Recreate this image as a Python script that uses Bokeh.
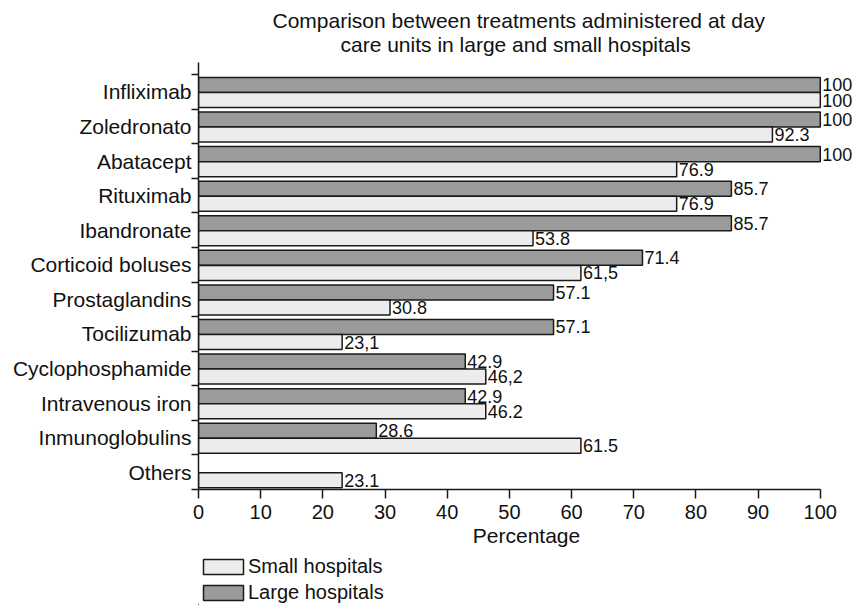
from bokeh.plotting import figure
from bokeh.layouts import column
from bokeh.models import (Range1d, FixedTicker, ColumnDataSource, Legend, LegendItem, Title, LabelSet)
from bokeh.core.properties import value
from bokeh.embed import file_html
from bokeh.resources import INLINE

categories = ["Infliximab", "Zoledronato", "Abatacept", "Rituximab", "Ibandronate",
              "Corticoid boluses", "Prostaglandins", "Tocilizumab", "Cyclophosphamide",
              "Intravenous iron", "Inmunoglobulins", "Others"]
large_vals = [100, 100, 100, 85.7, 85.7, 71.4, 57.1, 57.1, 42.9, 42.9, 28.6, None]
small_vals = [100, 92.3, 76.9, 76.9, 53.8, 61.5, 30.8, 23.1, 46.2, 46.2, 61.5, 23.1]
large_text = ["100", "100", "100", "85.7", "85.7", "71.4", "57.1", "57.1", "42.9", "42.9", "28.6", ""]
small_text = ["100", "92.3", "76.9", "76.9", "53.8", "61,5", "30.8", "23,1", "46,2", "46.2", "61.5", "23.1"]
x_ticks = [0, 10, 20, 30, 40, 50, 60, 70, 80, 90, 100]
series_names = ["Small hospitals", "Large hospitals"]
title_lines = ["Comparison between treatments administered at day",
               "care units in large and small hospitals"]

n = len(categories)
centers = [n - 1 - i for i in range(n)]
OFF_L = 0.20
OFF_S = 0.235
BAR_H = 0.434

large_idx = [i for i in range(n) if large_vals[i] is not None]
src_large = ColumnDataSource(dict(
    y=[centers[i] + OFF_L for i in large_idx],
    right=[large_vals[i] for i in large_idx],
    t=[large_text[i] for i in large_idx]))
src_small = ColumnDataSource(dict(
    y=[centers[i] - OFF_S for i in range(n)],
    right=small_vals,
    t=small_text))

FONT = "Liberation Sans"
INK = "#111111"
LINE = "#1a1a1a"
FILL_L = "#9b9b9b"
FILL_S = "#ececec"

# frame extends a little past 100 so the value labels are not clipped;
# the x axis itself is bounded to 0..100
p = figure(frame_width=656, frame_height=427, output_backend="svg", toolbar_location=None,
           x_range=Range1d(0, 105.5), y_range=Range1d(-0.5, n - 0.15),
           min_border_left=198, min_border_right=0, min_border_top=62, min_border_bottom=66)
p.outline_line_color = None
p.xgrid.visible = False
p.ygrid.visible = False

r_large = p.hbar(y="y", left=0, right="right", height=BAR_H, source=src_large,
                 fill_color=FILL_L, line_color=LINE, line_width=1.5)
r_small = p.hbar(y="y", left=0, right="right", height=BAR_H, source=src_small,
                 fill_color=FILL_S, line_color=LINE, line_width=1.5)

for src in (src_large, src_small):
    p.add_layout(LabelSet(x="right", y="y", text="t", source=src, x_offset=2,
                          text_baseline="middle", text_align="left",
                          text_font=value(FONT), text_font_size=value("18px"),
                          text_color=INK))

# x axis
xa = p.xaxis[0]
xa.bounds = (0, 100)
xa.ticker = FixedTicker(ticks=x_ticks)
xa.major_tick_out = 9
xa.major_tick_in = 0
xa.minor_tick_out = 0
xa.minor_tick_in = 0
xa.axis_line_color = LINE
xa.axis_line_width = 1.5
xa.major_tick_line_color = LINE
xa.major_tick_line_width = 1.5
xa.major_label_text_font = FONT
xa.major_label_text_font_size = "20px"
xa.major_label_text_color = INK
xa.major_label_standoff = 6
xa.axis_label = "Percentage"
xa.axis_label_text_font = FONT
xa.axis_label_text_font_size = "21px"
xa.axis_label_text_font_style = "normal"
xa.axis_label_text_color = INK
xa.axis_label_standoff = 2

# y axis
ya = p.yaxis[0]
boundaries = [c - 0.5 for c in centers] + [n - 0.5]
ya.ticker = FixedTicker(ticks=centers, minor_ticks=boundaries)
ya.major_label_overrides = {centers[i]: categories[i] for i in range(n)}
ya.major_tick_out = 0
ya.major_tick_in = 0
ya.minor_tick_out = 7
ya.minor_tick_in = 0
ya.minor_tick_line_color = LINE
ya.minor_tick_line_width = 1.5
ya.axis_line_color = LINE
ya.axis_line_width = 1.5
ya.major_label_text_font = FONT
ya.major_label_text_font_size = "21px"
ya.major_label_text_color = INK
ya.major_label_standoff = 0

p.title = None
t2 = Title(text=title_lines[1], align="left", offset=142,
           text_font=FONT, text_font_size="21px", text_font_style="normal",
           text_color=INK, standoff=14)
t1 = Title(text=title_lines[0], align="left", offset=74,
           text_font=FONT, text_font_size="21px", text_font_style="normal",
           text_color=INK, standoff=-16)
p.add_layout(t2, "above")
p.add_layout(t1, "above")

# legend figure below the chart; its renderers share the chart's sources but
# its ranges lie away from the data, so only the legend swatches show
p2 = figure(width=854, height=50, output_backend="svg", toolbar_location=None,
            x_axis_type=None, y_axis_type=None,
            x_range=Range1d(1000, 1001), y_range=Range1d(1000, 1001),
            min_border_left=185, min_border_top=0, min_border_bottom=0, min_border_right=0)
p2.outline_line_color = None
p2.xgrid.visible = False
p2.ygrid.visible = False
lg_s = p2.hbar(y="y", left=0, right="right", height=BAR_H, source=src_small,
               fill_color=FILL_S, line_color=LINE, line_width=1.5)
lg_l = p2.hbar(y="y", left=0, right="right", height=BAR_H, source=src_large,
               fill_color=FILL_L, line_color=LINE, line_width=1.5)
legend = Legend(items=[LegendItem(label=series_names[0], renderers=[lg_s]),
                       LegendItem(label=series_names[1], renderers=[lg_l])],
                location="top_left", orientation="vertical",
                glyph_width=50, glyph_height=19, spacing=3, padding=0, margin=0,
                label_standoff=0, label_text_font=FONT, label_text_font_size="20px",
                label_text_color=INK, border_line_color=None,
                background_fill_alpha=0, label_height=15)
p2.add_layout(legend, "center")

open("out.html", "w").write(file_html(column(p, p2, spacing=0), INLINE))
